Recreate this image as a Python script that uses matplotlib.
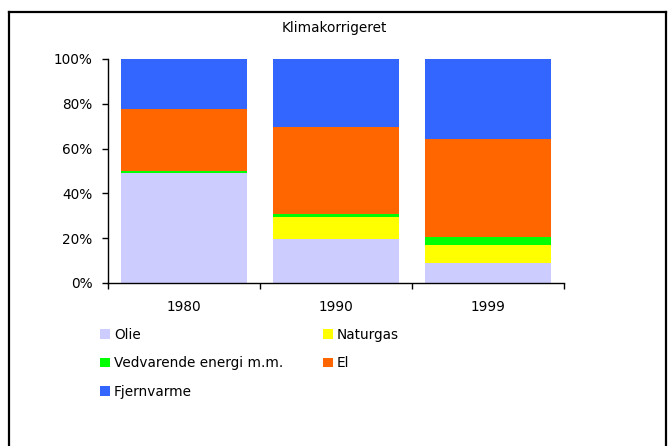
import matplotlib
matplotlib.use("Agg")
import matplotlib.pyplot as plt
from matplotlib.lines import Line2D
from matplotlib.patches import Patch
import numpy as np

plt.rcParams['font.family'] = ['DejaVu Sans']

years = ["1980", "1990", "1999"]
series_names = ["Olie", "Naturgas", "Vedvarende energi m.m.", "El", "Fjernvarme"]
olie = [49.0, 19.7, 8.8]
naturgas = [0.0, 9.6, 8.2]
vedvarende = [0.8, 1.5, 3.5]
el = [27.8, 38.7, 43.6]
fjernvarme = [22.4, 30.5, 35.9]
colors = ["#CCCCFF", "#FFFF00", "#00FF00", "#FF6600", "#3366FF"]
yticks = [0, 20, 40, 60, 80, 100]
title = "Klimakorrigeret"

W, H = 672, 446
fig = plt.figure(figsize=(W / 100, H / 100), dpi=100)
fig.patch.set_facecolor("white")

def fx(px):
    return px / W

def fy(py):
    return 1 - py / H

FS = 9.8
ax_l, ax_r, ax_t, ax_b = 108, 564, 59, 283
ax = fig.add_axes([fx(ax_l), fy(ax_b), fx(ax_r - ax_l), (ax_b - ax_t) / H])

data = [olie, naturgas, vedvarende, el, fjernvarme]
x = np.arange(len(years)) + 0.5
bottom = np.zeros(len(years))
handles = []
for name, vals, c in zip(series_names, data, colors):
    vals = np.array(vals)
    ax.bar(x, vals, width=0.835, bottom=bottom, color=c, edgecolor="none", zorder=2)
    bottom += vals
    handles.append(Patch(facecolor=c, edgecolor="none", label=name))

ax.set_xlim(0, 3)
ax.set_ylim(0, 100)
ax.set_yticks(yticks)
ax.set_yticklabels([f"{v}%" for v in yticks], fontsize=FS)
ax.set_xticks([0, 1, 2, 3])
ax.set_xticklabels([])
ax.set_xticks(x, minor=True)
ax.set_xticklabels(years, minor=True, fontsize=FS)
ax.tick_params(axis="x", which="minor", length=0, pad=12)
ax.tick_params(axis="x", which="major", length=4, width=1, direction="out")
ax.tick_params(axis="y", length=4, width=1, direction="out", pad=7)
for s in ["top", "right"]:
    ax.spines[s].set_visible(False)
for s in ["left", "bottom"]:
    ax.spines[s].set_linewidth(1)
    ax.spines[s].set_color("black")

fig.text(fx(334), fy(28), title, ha="center", va="center", fontsize=FS)

order = [0, 2, 4, 1, 3]
fs_px = FS * 100 / 72

def make_legend(colsp):
    return fig.legend([handles[i] for i in order], [series_names[i] for i in order],
                      ncol=2, loc="upper left", bbox_to_anchor=(fx(100), fy(328)),
                      frameon=False, fontsize=FS, handlelength=0.72, handleheight=0.72,
                      handletextpad=0.3, columnspacing=colsp, labelspacing=1.05,
                      borderaxespad=0, borderpad=0)

colsp = 2.0
leg = make_legend(colsp)
fig.canvas.draw()
r = fig.canvas.get_renderer()
patches = leg.get_patches()
x_naturgas = patches[3].get_window_extent(r).x0
x_olie = patches[0].get_window_extent(r).x0
target = 323 - 100
diff = target - (x_naturgas - x_olie)
leg.remove()
colsp = colsp + diff / fs_px
leg = make_legend(colsp)

# outer frame
lw = 1.6
fig.add_artist(Line2D([fx(9), fx(666)], [fy(12), fy(12)], color="black", lw=lw, transform=fig.transFigure))
fig.add_artist(Line2D([fx(9), fx(9)], [fy(12), fy(446)], color="black", lw=lw, transform=fig.transFigure))
fig.add_artist(Line2D([fx(666), fx(666)], [fy(12), fy(446)], color="black", lw=lw, transform=fig.transFigure))

fig.savefig("out.png", dpi=100, facecolor="white")
